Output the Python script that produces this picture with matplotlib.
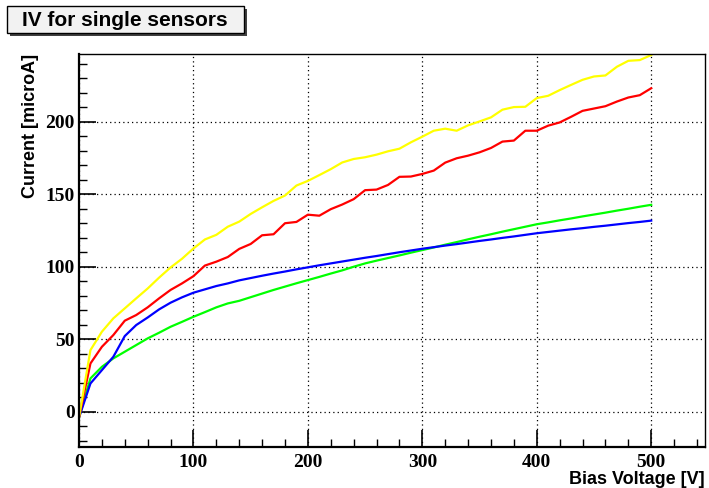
import numpy as np
import matplotlib.pyplot as plt
from matplotlib.ticker import MultipleLocator
from matplotlib.patches import Rectangle

# bias voltage steps [V]
voltage = list(range(0, 510, 10))

# leakage current per sensor [microA]
current_yellow = [-4, 42.5, 55.2, 64.4, 71.3, 78.2, 85, 92.5, 99.5, 105.5,
                  112.6, 118.8, 122, 127.6, 131.1, 136.4, 141, 145.4, 149.1, 156,
                  159.2, 163.2, 167.3, 171.9, 174.3, 175.5, 177.3, 179.6, 181.4, 185.8,
                  189.7, 193.8, 195.2, 193.8, 197.5, 200.2, 203, 208.3, 210.1, 210.3,
                  216.3, 217.9, 221.8, 225.4, 228.9, 231.2, 231.9, 237.9, 242, 242.5,
                  246]
current_red = [-4, 33.3, 44.8, 52.9, 62.8, 66.7, 72, 78.2, 84, 88.5,
               93.5, 100.8, 103.5, 106.7, 112.3, 115.7, 121.7, 122.4, 130, 130.9,
               135.9, 135.2, 139.7, 142.9, 146.6, 152.8, 153.2, 156.4, 162, 162.2,
               164, 166.3, 171.8, 174.8, 176.6, 178.9, 181.9, 186.3, 187, 193.8,
               193.8, 197.3, 199.5, 203.4, 207.5, 209.1, 210.7, 213.9, 216.7, 218.3,
               223.1]
current_green = [-4, 23, 31, 36.8, 41.4, 46, 50.6, 54.5, 58.6, 62,
                 65.5, 68.7, 72, 74.7, 76.5, 79, 81.5, 84, 86.3, 88.6,
                 90.8, 93, 95.3, 97.5, 100, 102.3, 104.2, 106, 107.8, 109.7,
                 111.5, 113.3, 115.2, 117, 118.9, 120.7, 122.4, 124.2, 125.9, 127.6,
                 129.3, 130.6, 132, 133.3, 134.7, 136, 137.3, 138.7, 140, 141.4,
                 142.7]
current_blue = [-4, 19.5, 28.7, 37.9, 52.2, 59.8, 65, 70.6, 75.2, 78.9,
                82.1, 84.4, 86.7, 88.5, 90.6, 92.2, 93.8, 95.3, 96.7, 98.2,
                99.6, 101, 102.3, 103.6, 104.9, 106.2, 107.4, 108.7, 110, 111.2,
                112.4, 113.5, 114.6, 115.6, 116.7, 117.8, 118.8, 119.9, 120.9, 122,
                123.1, 124, 124.9, 125.8, 126.6, 127.5, 128.3, 129.2, 130.1, 130.9,
                131.8]

fig = plt.figure(figsize=(7.09, 4.88), dpi=100)
ax = fig.add_axes([79 / 709, 41 / 488, 626 / 709, 393 / 488])

ax.plot(voltage, current_green, color='#00ff00', lw=1.6)
ax.plot(voltage, current_blue, color='#0000ff', lw=1.6)
ax.plot(voltage, current_red, color='#ff0000', lw=1.6)
ax.plot(voltage, current_yellow, color='#ffff00', lw=1.6)

ax.set_xlim(0, 547)
ax.set_ylim(-24.3, 246.7)

ax.xaxis.set_major_locator(MultipleLocator(100))
ax.xaxis.set_minor_locator(MultipleLocator(20))
ax.yaxis.set_major_locator(MultipleLocator(50))
ax.yaxis.set_minor_locator(MultipleLocator(10))
ax.tick_params(which='both', direction='in', top=False, right=False, color='black')
ax.tick_params(which='major', length=12, width=1.2)
ax.tick_params(which='minor', length=6, width=1.0)
ax.tick_params(axis='x', pad=5)
ax.tick_params(axis='y', pad=3)
for lab in ax.get_xticklabels() + ax.get_yticklabels():
    lab.set_fontfamily('Liberation Serif')
    lab.set_fontweight('bold')
    lab.set_fontsize(14)

ax.grid(True, which='major', linestyle=(0, (1, 2.5)), color='black', lw=0.9)
for s in ax.spines.values():
    s.set_linewidth(1.0)
ax.spines['left'].set_linewidth(1.6)
ax.spines['bottom'].set_linewidth(1.6)

ax.set_xlabel('Bias Voltage [V]', fontfamily='Liberation Sans', fontweight='bold',
              fontsize=13, loc='right', labelpad=0)
ax.set_ylabel('Current [microA]', fontfamily='Liberation Sans', fontweight='bold',
              fontsize=13, loc='top', labelpad=5)

# title box with drop shadow
fig.patches.append(Rectangle((10 / 709, 1 - 36 / 488), 237 / 709, 27 / 488,
                             transform=fig.transFigure, facecolor='#404040',
                             edgecolor='none', zorder=1))
fig.patches.append(Rectangle((7 / 709, 1 - 33 / 488), 237 / 709, 27 / 488,
                             transform=fig.transFigure, facecolor='#f2f2f2',
                             edgecolor='black', lw=1.0, zorder=2))
fig.text(22 / 709, 1 - 20 / 488, 'IV for single sensors', fontfamily='Liberation Sans',
         fontweight='bold', fontsize=15, va='center', ha='left', zorder=3)

fig.savefig('out.png', dpi=100)
